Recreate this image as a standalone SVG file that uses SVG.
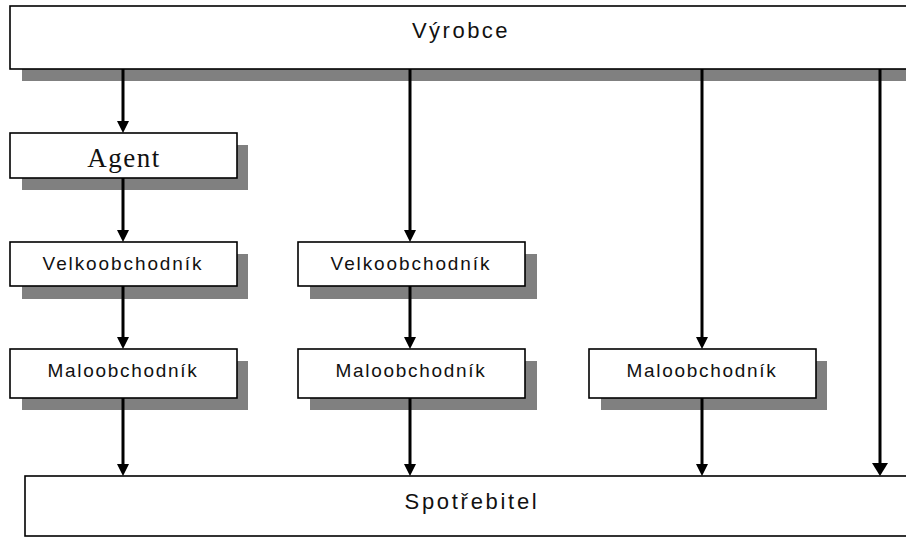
<svg xmlns="http://www.w3.org/2000/svg" width="906" height="537" viewBox="0 0 906 537">
<defs>
<style>
.box{fill:#fff;stroke:#000;stroke-width:1.6}
.sh{fill:#808080}
.t{font-family:"Liberation Sans",Arial,sans-serif;fill:#111;text-anchor:middle}
.v{font-size:19px;letter-spacing:1.9px}
.m{font-size:19px;letter-spacing:1.7px}
.b{font-size:22px;letter-spacing:2.5px}
.sp{font-size:22px;letter-spacing:2.7px}
.ag{font-family:"Liberation Serif","Times New Roman",serif;font-size:27px;letter-spacing:1.5px;fill:#111;text-anchor:middle}
.c{stroke:#000;stroke-width:3;fill:none}
.h{fill:#000}
</style>
</defs>
<rect width="906" height="537" fill="#fff"/>
<g id="vyrobce">
<rect class="sh" x="22" y="69" width="900" height="12"/>
<rect class="box" x="10" y="6" width="910" height="63"/>
<text class="t b" x="461" y="38">Výrobce</text>
</g>
<g id="agent">
<rect class="sh" x="22" y="145" width="226" height="45"/>
<rect class="box" x="10" y="133" width="227" height="45"/>
<text class="ag" x="124" y="167">Agent</text>
</g>
<g id="velko1">
<rect class="sh" x="22" y="254" width="226" height="45"/>
<rect class="box" x="10" y="242" width="227" height="44"/>
<text class="t v" x="123" y="270">Velkoobchodník</text>
</g>
<g id="velko2">
<rect class="sh" x="310" y="254" width="227" height="45"/>
<rect class="box" x="298" y="242" width="227" height="44"/>
<text class="t v" x="411" y="270">Velkoobchodník</text>
</g>
<g id="malo1">
<rect class="sh" x="22" y="361" width="226" height="49"/>
<rect class="box" x="10" y="349" width="227" height="49"/>
<text class="t m" x="123" y="377">Maloobchodník</text>
</g>
<g id="malo2">
<rect class="sh" x="310" y="361" width="227" height="49"/>
<rect class="box" x="298" y="349" width="227" height="49"/>
<text class="t m" x="411" y="377">Maloobchodník</text>
</g>
<g id="malo3">
<rect class="sh" x="601" y="361" width="226" height="49"/>
<rect class="box" x="589" y="349" width="227" height="49"/>
<text class="t m" x="702" y="377">Maloobchodník</text>
</g>
<g id="spotrebitel">
<rect class="box" x="25" y="476" width="900" height="60"/>
<text class="t sp" x="472" y="509">Spotřebitel</text>
</g>
<g id="connectors">
<path class="c" d="M123 69V122M123 178V231M123 286V338M123 398V465"/>
<path class="c" d="M410 69V231M410 286V338M410 398V465"/>
<path class="c" d="M702 69V338M702 398V465"/>
<path class="c" stroke-width="4.5" d="M880 69V464"/>
<path class="h" d="M117 121H129L123 133ZM117 230H129L123 242ZM117 337H129L123 349ZM117 464H129L123 476Z"/>
<path class="h" d="M404 230H416L410 242ZM404 337H416L410 349ZM404 464H416L410 476Z"/>
<path class="h" d="M696 337H708L702 349ZM696 464H708L702 476Z"/>
<path class="h" d="M872 463H888L880 476Z"/>
</g>
</svg>
